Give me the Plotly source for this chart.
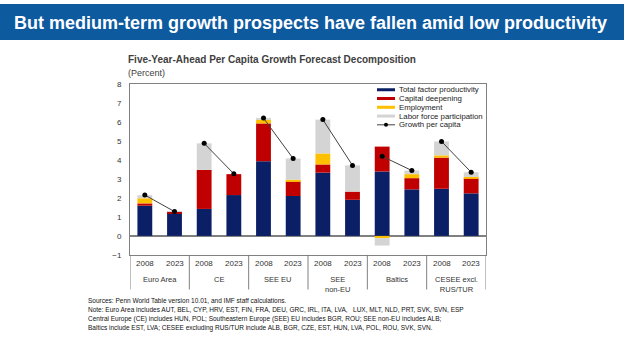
import plotly.graph_objects as go

W, H = 624, 351
groups = ["Euro Area", "CE", "SEE EU", "SEE<br>non-EU", "Baltics", "CESEE excl.<br>RUS/TUR"]
years = ["2008", "2023"]

tfp = [1.59, 1.20, 1.42, 2.15, 3.93, 2.10, 3.33, 1.90, 3.39, 2.45, 2.48, 2.24]
capital = [0.12, 0.08, 2.05, 1.10, 1.99, 0.77, 0.43, 0.43, 1.31, 0.59, 1.64, 0.80]
employment = [0.27, 0.00, 0.00, 0.00, 0.20, 0.09, 0.58, 0.00, -0.12, 0.21, 0.12, 0.06]
lfp = [0.16, 0.02, 1.40, 0.00, 0.05, 1.11, 1.78, 1.38, -0.39, 0.19, 0.73, 0.25]
growth = [2.15, 1.28, 4.87, 3.27, 6.20, 4.07, 6.12, 3.71, 4.19, 3.44, 4.97, 3.35]

series = [
    ("Total factor productivity", tfp, "#0b1f66"),
    ("Capital deepening", capital, "#c00000"),
    ("Employment", employment, "#ffc000"),
    ("Labor force participation", lfp, "#d4d4d4"),
]

xs = list(range(len(tfp)))

def px(x):
    return x / W

def py(y):
    return 1 - y / H

fig = go.Figure()
for name, vals, col in series:
    fig.add_trace(go.Bar(x=xs, y=vals, name=name, marker=dict(color=col, line=dict(width=0)),
                         width=0.5, showlegend=False))

lx, ly = [], []
for g in range(len(groups)):
    lx += [2 * g, 2 * g + 1, None]
    ly += [growth[2 * g], growth[2 * g + 1], None]
fig.add_trace(go.Scatter(x=lx, y=ly, mode="lines+markers", name="Growth per capita",
                         line=dict(color="#404040", width=1),
                         marker=dict(color="black", size=5), showlegend=False))

shapes = []
annotations = []
FONT = "Liberation Sans, Arial"

# banner
shapes.append(dict(type="rect", xref="paper", yref="paper", x0=0, x1=1, y0=py(37), y1=1,
                   fillcolor="#0d5a9f", line=dict(width=0), layer="below"))
annotations.append(dict(text="<b>But medium-term growth prospects have fallen amid low productivity</b>",
                        xref="paper", yref="paper", x=px(12), y=py(19), xanchor="left", yanchor="middle",
                        showarrow=False, font=dict(family=FONT, size=18, color="white")))

# chart title
annotations.append(dict(text="<b>Five-Year-Ahead Per Capita Growth Forecast Decomposition</b>",
                        xref="paper", yref="paper", x=px(126), y=py(57), xanchor="left", yanchor="middle",
                        showarrow=False, font=dict(family=FONT, size=10, color="#404040")))
annotations.append(dict(text="(Percent)", xref="paper", yref="paper", x=px(126), y=py(71),
                        xanchor="left", yanchor="middle", showarrow=False,
                        font=dict(family=FONT, size=9, color="#404040")))

# category axis labels
for i, x in enumerate(xs):
    annotations.append(dict(text=years[i % 2], xref="x", yref="paper", x=x, y=py(266),
                            xanchor="center", yanchor="middle", showarrow=False,
                            font=dict(family=FONT, size=8, color="#333")))
for g, name in enumerate(groups):
    annotations.append(dict(text=name, xref="x", yref="paper", x=2 * g + 0.5, y=py(276.5),
                            xanchor="center", yanchor="top", showarrow=False,
                            font=dict(family=FONT, size=7.5, color="#333")))
for g in range(len(groups) + 1):
    shapes.append(dict(type="line", xref="x", yref="paper", x0=2 * g - 0.5, x1=2 * g - 0.5,
                       y0=py(257.5), y1=py(293), line=dict(color="#808080", width=1)))

# legend (manual)
leg_y = [88, 97, 106, 115, 124]
for (name, vals, col), yy in zip(series, leg_y):
    shapes.append(dict(type="line", xref="paper", yref="paper", x0=px(377), x1=px(395),
                       y0=py(yy), y1=py(yy), line=dict(color=col, width=3)))
    annotations.append(dict(text=name, xref="paper", yref="paper", x=px(397), y=py(yy),
                            xanchor="left", yanchor="middle", showarrow=False,
                            font=dict(family=FONT, size=7.8, color="#222")))
shapes.append(dict(type="line", xref="paper", yref="paper", x0=px(377), x1=px(395),
                   y0=py(leg_y[4]), y1=py(leg_y[4]), line=dict(color="#404040", width=1)))
shapes.append(dict(type="circle", xref="paper", yref="paper", x0=px(384), x1=px(388),
                   y0=py(leg_y[4] + 2), y1=py(leg_y[4] - 2), fillcolor="black", line=dict(width=0)))
annotations.append(dict(text="Growth per capita", xref="paper", yref="paper", x=px(397), y=py(leg_y[4]),
                        xanchor="left", yanchor="middle", showarrow=False,
                        font=dict(family=FONT, size=7.8, color="#222")))

# footnotes
notes = [
    "Sources: Penn World Table version 10.01, and IMF staff calculations.",
    "Note: Euro Area includes AUT, BEL, CYP, HRV, EST, FIN, FRA, DEU, GRC, IRL, ITA, LVA,   LUX, MLT, NLD, PRT, SVK, SVN, ESP",
    "Central Europe (CE) includes HUN, POL; Southeastern Europe (SEE) EU includes BGR, ROU; SEE non-EU includes ALB;",
    "Baltics include EST, LVA; CESEE excluding RUS/TUR include ALB, BGR, CZE, EST, HUN, LVA, POL, ROU, SVK, SVN.",
]
for i, t in enumerate(notes):
    annotations.append(dict(text=t, xref="paper", yref="paper", x=px(86), y=py(304.5 + 9.4 * i),
                            xanchor="left", yanchor="middle", showarrow=False,
                            font=dict(family=FONT, size=6.5, color="#111")))

fig.update_layout(
    width=W, height=H, margin=dict(l=0, r=0, t=0, b=0),
    paper_bgcolor="white", plot_bgcolor="white",
    barmode="relative", bargap=0.5,
    showlegend=False,
    shapes=shapes, annotations=annotations,
    xaxis=dict(domain=[px(130), px(486)], range=[-0.5, 11.5], showticklabels=False, ticks="",
               showgrid=False, zeroline=False, showline=True, mirror=True, linecolor="#808080", linewidth=1),
    yaxis=dict(domain=[py(257.5), py(82)], range=[-1, 8], dtick=1, tickmode="linear",
               showgrid=False, zeroline=True, zerolinecolor="#808080", zerolinewidth=1.5,
               showline=True, mirror=True, linecolor="#808080", linewidth=1,
               ticks="", ticklabelstandoff=6,
               tickfont=dict(family=FONT, size=8, color="#333")),
)

fig.write_html("out.html")
